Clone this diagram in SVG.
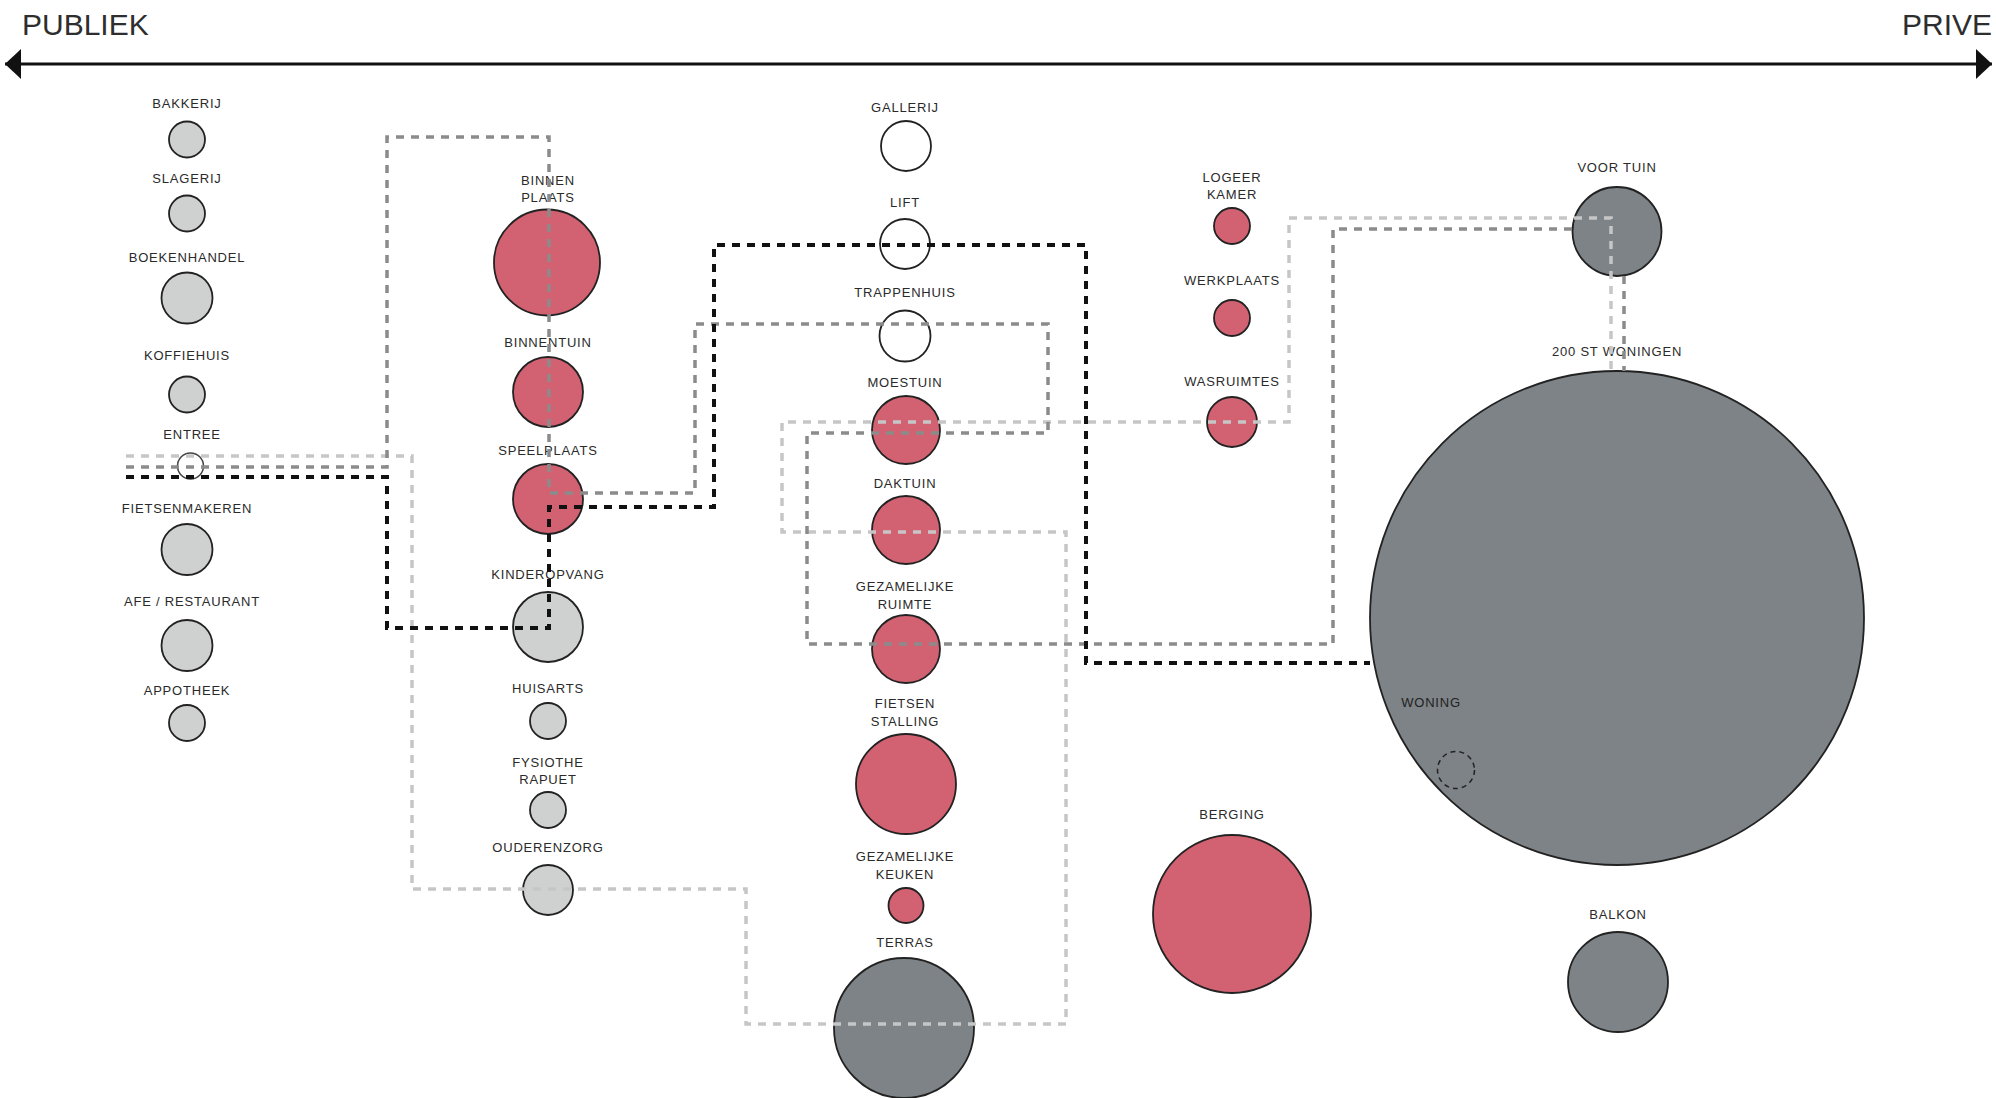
<svg xmlns="http://www.w3.org/2000/svg" width="1996" height="1098" viewBox="0 0 1996 1098">
<style>
.lbl{font-family:"Liberation Sans",Arial,sans-serif;font-size:13px;letter-spacing:0.8px;fill:#2a2a2a;text-anchor:middle}
.ttl{font-family:"Liberation Sans",Arial,sans-serif;font-size:30px;fill:#2e2e2e}
.c{stroke:#222;stroke-width:1.8}
.pub{fill:#cfd1d0}
.red{fill:#d26272}
.dk{fill:#7d8386}
.wh{fill:#ffffff}
.ln{fill:none;stroke-dasharray:8 7}
.l1{stroke:#c6c6c6;stroke-width:3.5}
.l2{stroke:#8b8b8b;stroke-width:3.5}
.l3{stroke:#111;stroke-width:4}
</style>
<defs>
<marker id="ah" viewBox="0 0 16 30" refX="16" refY="15" markerWidth="16" markerHeight="30" markerUnits="userSpaceOnUse" orient="auto-start-reverse">
<path d="M0,0 L16,15 L0,30 Z" fill="#111"/>
</marker>
</defs>
<rect width="1996" height="1098" fill="#ffffff"/>

<g id="axis">
<text class="ttl" x="22" y="35">PUBLIEK</text>
<text class="ttl" x="1992" y="35" text-anchor="end">PRIVE</text>
<line x1="5" y1="64" x2="1992" y2="64" stroke="#111" stroke-width="3" marker-start="url(#ah)" marker-end="url(#ah)"/>
</g>

<g id="bakkerij"><text class="lbl" x="187" y="108">BAKKERIJ</text><circle class="c pub" cx="187" cy="139.5" r="18"/></g>
<g id="slagerij"><text class="lbl" x="187" y="183">SLAGERIJ</text><circle class="c pub" cx="187" cy="213.5" r="18"/></g>
<g id="boekenhandel"><text class="lbl" x="187" y="262">BOEKENHANDEL</text><circle class="c pub" cx="187" cy="298" r="25.5"/></g>
<g id="koffiehuis"><text class="lbl" x="187" y="360">KOFFIEHUIS</text><circle class="c pub" cx="187" cy="394.5" r="18"/></g>
<g id="entree"><text class="lbl" x="192" y="439">ENTREE</text><circle class="wh" cx="190.5" cy="466" r="13" stroke="#444" stroke-width="1.5"/></g>
<g id="fietsenmakeren"><text class="lbl" x="187" y="513">FIETSENMAKEREN</text><circle class="c pub" cx="187" cy="549.5" r="25.5"/></g>
<g id="restaurant"><text class="lbl" x="192" y="606">AFE / RESTAURANT</text><circle class="c pub" cx="187" cy="645.5" r="25.5"/></g>
<g id="appotheek"><text class="lbl" x="187" y="695">APPOTHEEK</text><circle class="c pub" cx="187" cy="723" r="18"/></g>

<g id="binnenplaats"><text class="lbl" x="548" y="185">BINNEN</text><text class="lbl" x="548" y="202">PLAATS</text><circle class="c red" cx="547" cy="262.5" r="53"/></g>
<g id="binnentuin"><text class="lbl" x="548" y="347">BINNENTUIN</text><circle class="c red" cx="548" cy="392" r="35"/></g>
<g id="speelplaats"><text class="lbl" x="548" y="455">SPEELPLAATS</text><circle class="c red" cx="548" cy="499" r="35"/></g>
<g id="kinderopvang"><text class="lbl" x="548" y="579">KINDEROPVANG</text><circle class="c pub" cx="548" cy="627" r="35"/></g>
<g id="huisarts"><text class="lbl" x="548" y="693">HUISARTS</text><circle class="c pub" cx="548" cy="721" r="18"/></g>
<g id="fysiotherapie"><text class="lbl" x="548" y="767">FYSIOTHE</text><text class="lbl" x="548" y="784">RAPUET</text><circle class="c pub" cx="548" cy="810" r="18"/></g>
<g id="ouderenzorg"><text class="lbl" x="548" y="852">OUDERENZORG</text><circle class="c pub" cx="548" cy="890" r="25"/></g>

<g id="gallerij"><text class="lbl" x="905" y="112">GALLERIJ</text><circle class="c wh" cx="906" cy="146" r="25"/></g>
<g id="lift"><text class="lbl" x="905" y="207">LIFT</text><circle class="c wh" cx="905" cy="244" r="25"/></g>
<g id="trappenhuis"><text class="lbl" x="905" y="297">TRAPPENHUIS</text><circle class="c wh" cx="905" cy="336" r="25.5"/></g>
<g id="moestuin"><text class="lbl" x="905" y="387">MOESTUIN</text><circle class="c red" cx="906" cy="430" r="34"/></g>
<g id="daktuin"><text class="lbl" x="905" y="488">DAKTUIN</text><circle class="c red" cx="906" cy="530" r="34"/></g>
<g id="gezamelijke-ruimte"><text class="lbl" x="905" y="591">GEZAMELIJKE</text><text class="lbl" x="905" y="609">RUIMTE</text><circle class="c red" cx="906" cy="649" r="34"/></g>
<g id="fietsenstalling"><text class="lbl" x="905" y="708">FIETSEN</text><text class="lbl" x="905" y="726">STALLING</text><circle class="c red" cx="906" cy="784" r="50"/></g>
<g id="gezamelijke-keuken"><text class="lbl" x="905" y="861">GEZAMELIJKE</text><text class="lbl" x="905" y="879">KEUKEN</text><circle class="c red" cx="906" cy="905.5" r="17.5"/></g>
<g id="terras"><text class="lbl" x="905" y="947">TERRAS</text><circle class="c dk" cx="904" cy="1028" r="70"/></g>

<g id="logeerkamer"><text class="lbl" x="1232" y="182">LOGEER</text><text class="lbl" x="1232" y="199">KAMER</text><circle class="c red" cx="1232" cy="226" r="18"/></g>
<g id="werkplaats"><text class="lbl" x="1232" y="285">WERKPLAATS</text><circle class="c red" cx="1232" cy="318" r="18"/></g>
<g id="wasruimtes"><text class="lbl" x="1232" y="386">WASRUIMTES</text><circle class="c red" cx="1232" cy="422" r="25"/></g>
<g id="berging"><text class="lbl" x="1232" y="819">BERGING</text><circle class="c red" cx="1232" cy="914" r="79"/></g>

<g id="voortuin"><text class="lbl" x="1617" y="172">VOOR TUIN</text><circle class="c dk" cx="1617" cy="231.5" r="44.5"/></g>
<g id="woningen"><text class="lbl" x="1617" y="356">200 ST WONINGEN</text><circle class="c dk" cx="1617" cy="618" r="247"/></g>
<g id="woning"><text class="lbl" x="1431" y="707" style="fill:#222">WONING</text><circle cx="1456" cy="770" r="18.5" fill="none" stroke="#222" stroke-width="1.5" stroke-dasharray="5 4"/></g>
<g id="balkon"><text class="lbl" x="1618" y="919">BALKON</text><circle class="c dk" cx="1618" cy="982" r="50"/></g>

<g id="connectors">
<path class="ln l1" d="M126,456 H412 V889 H746 V1024 H1066 V532 H782 V422 H1289 V218 H1611 V371"/>
<path class="ln l2" d="M126,467 H387 V137 H549 V493 H695 V324 H1048 V433 H807 V644 H1333 V229 H1573"/>
<path class="ln l2" d="M1624,276 V371"/>
<path class="ln l3" d="M126,477 H387 V628 H549 V507 H714 V245 H1086 V663 H1370"/>
</g>
</svg>
